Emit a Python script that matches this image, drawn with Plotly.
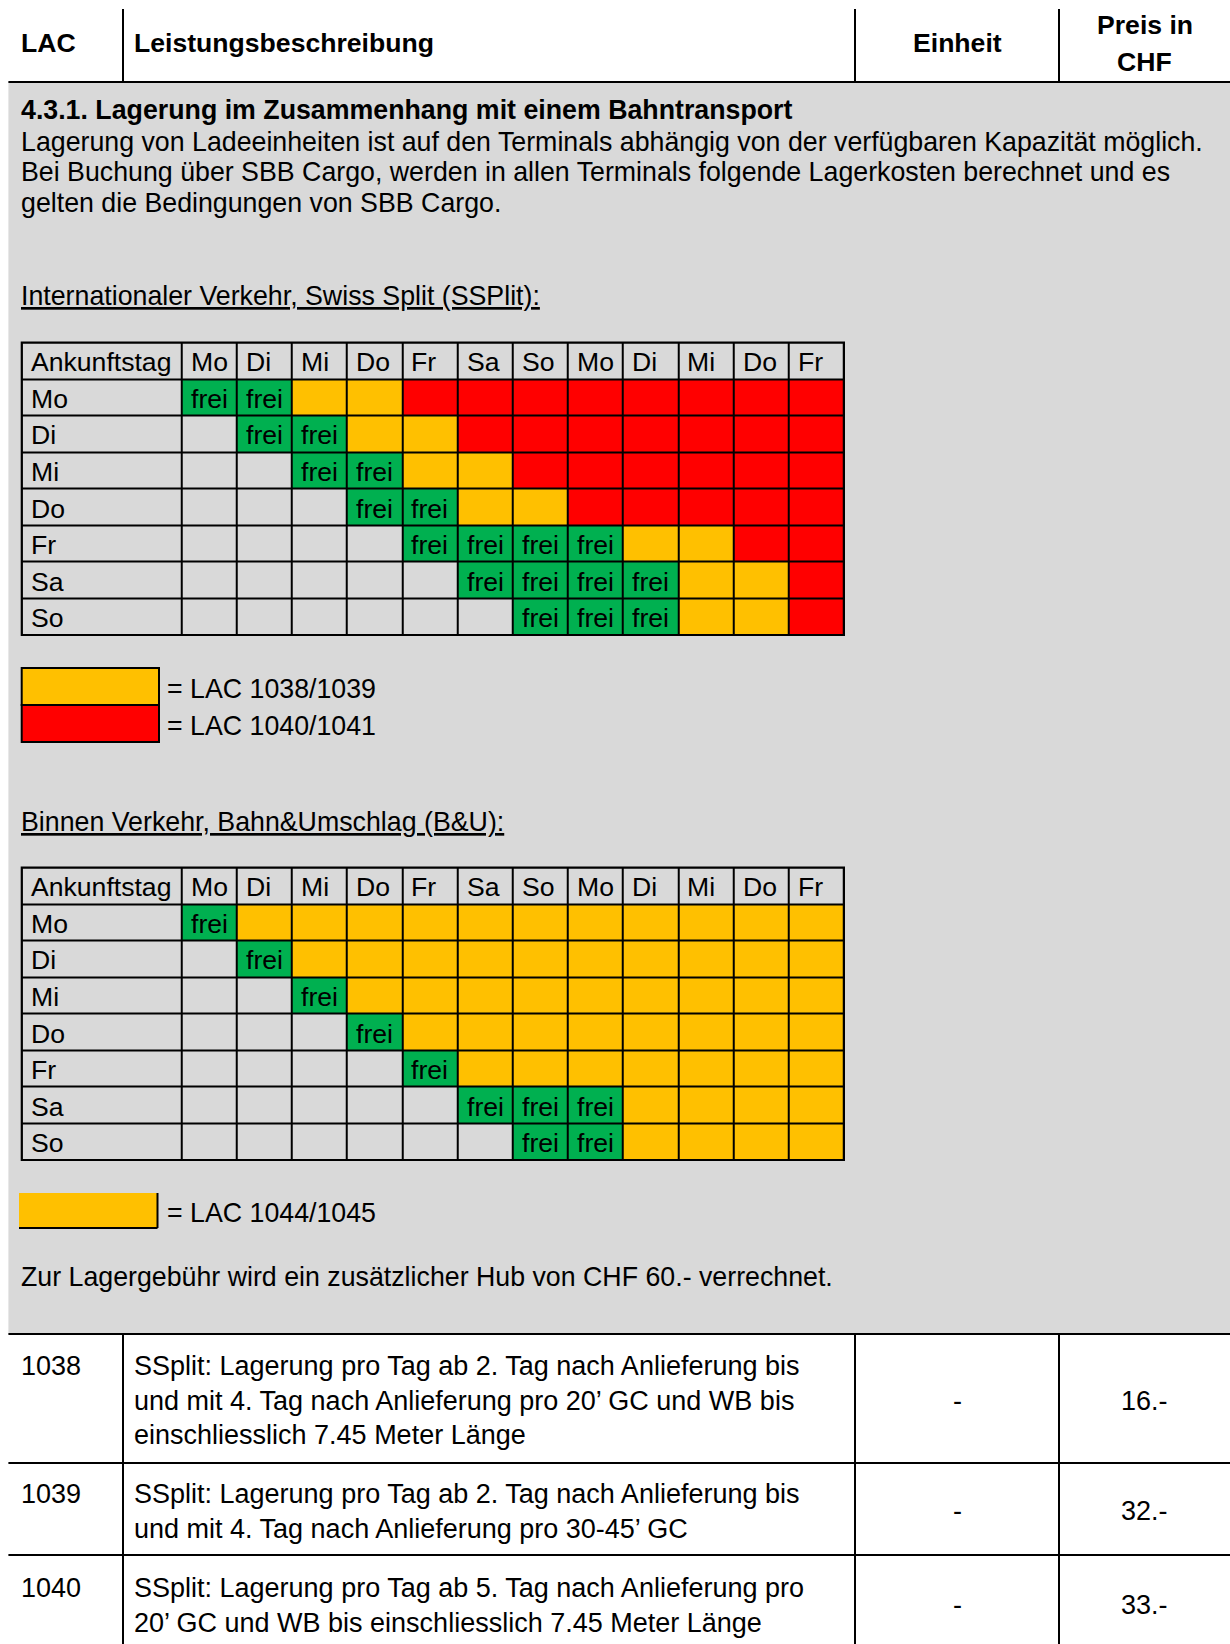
import plotly.graph_objects as go

# ---------------- data ----------------
header_labels = ["LAC", "Leistungsbeschreibung", "Einheit"]
price_header = ["Preis in", "CHF"]
section_title = "4.3.1. Lagerung im Zusammenhang mit einem Bahntransport"
intro_lines = [
    "Lagerung von Ladeeinheiten ist auf den Terminals abhängig von der verfügbaren Kapazität möglich.",
    "Bei Buchung über SBB Cargo, werden in allen Terminals folgende Lagerkosten berechnet und es",
    "gelten die Bedingungen von SBB Cargo.",
]
ssplit_title = "Internationaler Verkehr, Swiss Split (SSPlit):"
bu_title = "Binnen Verkehr, Bahn&Umschlag (B&U):"
corner_label = "Ankunftstag"
day_columns = ["Mo", "Di", "Mi", "Do", "Fr", "Sa", "So", "Mo", "Di", "Mi", "Do", "Fr"]
arrival_days = ["Mo", "Di", "Mi", "Do", "Fr", "Sa", "So"]
free_label = "frei"
# . = leer, F = frei, Y = gelb (LAC 1038/1039 bzw. 1044/1045), R = rot (LAC 1040/1041)
ssplit_cells = [
    "FFYYRRRRRRRR",
    ".FFYYRRRRRRR",
    "..FFYYRRRRRR",
    "...FFYYRRRRR",
    "....FFFFYYRR",
    ".....FFFFYYR",
    "......FFFYYR",
]
bu_cells = [
    "FYYYYYYYYYYY",
    ".FYYYYYYYYYY",
    "..FYYYYYYYYY",
    "...FYYYYYYYY",
    "....FYYYYYYY",
    ".....FFFYYYY",
    "......FFYYYY",
]
ssplit_legend_codes = ["Y", "R"]
ssplit_legend_labels = ["= LAC 1038/1039", "= LAC 1040/1041"]
bu_legend_codes = ["Y"]
bu_legend_labels = ["= LAC 1044/1045"]
note_text = "Zur Lagergebühr wird ein zusätzlicher Hub von CHF 60.- verrechnet."
lac_codes = ["1038", "1039", "1040"]
descriptions = [
    ["SSplit: Lagerung pro Tag ab 2. Tag nach Anlieferung bis",
     "und mit 4. Tag nach Anlieferung pro 20’ GC und WB bis",
     "einschliesslich 7.45 Meter Länge"],
    ["SSplit: Lagerung pro Tag ab 2. Tag nach Anlieferung bis",
     "und mit 4. Tag nach Anlieferung pro 30-45’ GC"],
    ["SSplit: Lagerung pro Tag ab 5. Tag nach Anlieferung pro",
     "20’ GC und WB bis einschliesslich 7.45 Meter Länge"],
]
units = ["-", "-", "-"]
prices = ["16.-", "32.-", "33.-"]

# ---------------- style / layout ----------------
CODE_VALUE = {".": 0, "F": 1, "Y": 2, "R": 3}
COLORS = ["#D9D9D9", "#00B050", "#FFC000", "#FF0000"]
GRAY = COLORS[0]
W, H = 1230, 1644
FONT = "Liberation Sans, Arial, Helvetica, sans-serif"
FS_HEAD = 26.6
FS = 26.75
FS_GRID = 26.6
FS_TABLE = 27.0

LEFT = 8.4
COL_LINES = [123, 855, 1059]
HEAD_TOP, HEAD_BOTTOM = 9, 82
GRAY_BOTTOM = 1334
ROW_LINES = [1463, 1555]

GRID_LEFT, GRID_RIGHT = 21.7, 844
GRID_TOPS = [342.5, 867.5]
GRID_H = 292.5
FIRST_W = 159.8 / 55.2  # width of first column in day-column units
TEXT_PAD = 7


def fx(x):
    return x / W


def fy(y):
    return 1 - y / H


annotations = []
shapes = []


def add_text(x, y, s, anchor="left", bold=False, size=FS):
    s = s.replace("&", "&amp;")
    if bold:
        s = "<b>" + s + "</b>"
    annotations.append(dict(
        xref="paper", yref="paper", x=fx(x), y=fy(y), text=s, showarrow=False,
        xanchor=anchor, yanchor="middle", align=anchor if anchor != "center" else "center",
        font=dict(family=FONT, size=size, color="black"),
    ))


def add_line(x0, y0, x1, y1, width=2):
    shapes.append(dict(type="line", xref="paper", yref="paper",
                       x0=fx(x0), y0=fy(y0), x1=fx(x1), y1=fy(y1),
                       line=dict(color="black", width=width)))


# gray block
shapes.append(dict(type="rect", xref="paper", yref="paper", x0=fx(LEFT), x1=1,
                   y0=fy(GRAY_BOTTOM), y1=fy(HEAD_BOTTOM), fillcolor=GRAY,
                   line=dict(width=0), layer="below"))

# header
for xl in COL_LINES:
    add_line(xl, HEAD_TOP, xl, HEAD_BOTTOM)
add_line(LEFT, HEAD_BOTTOM, W, HEAD_BOTTOM)
add_text(19, 43, header_labels[0], bold=True, size=FS_HEAD)
add_text(132, 43, header_labels[1], bold=True, size=FS_HEAD)
add_text((COL_LINES[1] + COL_LINES[2]) / 2, 43, header_labels[2], anchor="center", bold=True, size=FS_HEAD)
add_text((COL_LINES[2] + W) / 2, 25, price_header[0], anchor="center", bold=True, size=FS_HEAD)
add_text((COL_LINES[2] + W) / 2, 62, price_header[1], anchor="center", bold=True, size=FS_HEAD)

# intro
add_text(19, 110.5, section_title, bold=True)
for i, line in enumerate(intro_lines):
    add_text(19, 142 + i * 30.4, line)
add_text(19, 295.5, "<u>" + ssplit_title + "</u>")
add_text(19, 821.5, "<u>" + bu_title + "</u>")
add_text(19, 1276.5, note_text)

# legends
for i, (code, lab) in enumerate(zip(ssplit_legend_codes, ssplit_legend_labels)):
    top = 668 + i * 37
    shapes.append(dict(type="rect", xref="paper", yref="paper", x0=fx(21.7), x1=fx(159),
                       y0=fy(top + 37), y1=fy(top), fillcolor=COLORS[CODE_VALUE[code]],
                       line=dict(color="black", width=2)))
    add_text(165, top + 21, lab)
for i, (code, lab) in enumerate(zip(bu_legend_codes, bu_legend_labels)):
    top = 1193 + i * 37
    shapes.append(dict(type="rect", xref="paper", yref="paper", x0=fx(19), x1=fx(157.5),
                       y0=fy(top + 35), y1=fy(top), fillcolor=COLORS[CODE_VALUE[code]],
                       line=dict(width=0)))
    add_line(157.5, top, 157.5, top + 35)
    add_line(19, top + 35, 157.5, top + 35)
    add_text(165, top + 19.5, lab)

# lower table
add_line(LEFT, GRAY_BOTTOM, W, GRAY_BOTTOM)
for yl in ROW_LINES:
    add_line(LEFT, yl, W, yl)
for xl in COL_LINES:
    add_line(xl, GRAY_BOTTOM, xl, H + 2)
first_line_y = [1366, 1494, 1588]
line_gap = 34.5
for code, desc, unit, price, y0 in zip(lac_codes, descriptions, units, prices, first_line_y):
    add_text(19, y0, code, size=FS_TABLE)
    yc = y0 + (len(desc) - 1) * line_gap / 2
    for k, dl in enumerate(desc):
        add_text(132, y0 + k * line_gap, dl, size=FS_TABLE)
    add_text((COL_LINES[1] + COL_LINES[2]) / 2, yc, unit, anchor="center", size=FS_TABLE)
    add_text((COL_LINES[2] + W) / 2, yc, price, anchor="center", size=FS_TABLE)

# ---------------- grids (heatmaps) ----------------
fig = go.Figure()
n = len(COLORS) - 1
colorscale = []
for v, c in enumerate(COLORS):
    lo = max(0, (v - 0.5) / n)
    hi = min(1, (v + 0.5) / n)
    colorscale += [[lo, c], [hi, c]]

x_edges = [-FIRST_W] + list(range(len(day_columns) + 1))
y_edges = list(range(len(arrival_days) + 2))

for g, (cells, top) in enumerate(zip([ssplit_cells, bu_cells], GRID_TOPS)):
    sfx = "" if g == 0 else str(g + 1)
    xref, yref = "x" + sfx, "y" + sfx
    z = [[0] * (len(day_columns) + 1)]
    for row in cells:
        z.append([0] + [CODE_VALUE[c] for c in row])
    fig.add_trace(go.Heatmap(
        z=z, x=x_edges, y=y_edges, colorscale=colorscale, zmin=0, zmax=n,
        showscale=False, xgap=2, ygap=2, hoverinfo="skip",
        xaxis=xref, yaxis=yref,
    ))
    dom_x = [fx(GRID_LEFT), fx(GRID_RIGHT)]
    dom_y = [fy(top + GRID_H), fy(top)]
    fig.update_layout(**{
        "xaxis" + sfx: dict(domain=dom_x, range=[x_edges[0], x_edges[-1]], visible=False,
                            fixedrange=True, anchor=yref),
        "yaxis" + sfx: dict(domain=dom_y, range=[y_edges[-1], y_edges[0]], visible=False,
                            fixedrange=True, anchor=xref),
    })
    # black background visible through the gaps
    shapes.append(dict(type="rect", xref=xref, yref=yref, x0=x_edges[0], x1=x_edges[-1],
                       y0=y_edges[0], y1=y_edges[-1], fillcolor="black",
                       line=dict(width=0), layer="below"))
    # outer border
    shapes.append(dict(type="rect", xref="paper", yref="paper", x0=dom_x[0], x1=dom_x[1],
                       y0=dom_y[0], y1=dom_y[1], line=dict(color="black", width=2)))
    labels = [(x_edges[0], 0, corner_label)]
    labels += [(j, 0, d) for j, d in enumerate(day_columns)]
    labels += [(x_edges[0], i + 1, d) for i, d in enumerate(arrival_days)]
    for i, row in enumerate(cells):
        for j, c in enumerate(row):
            if c == "F":
                labels.append((j, i + 1, free_label))
    for x0, r, s in labels:
        annotations.append(dict(
            xref=xref, yref=yref, x=x0, y=r + 0.5, text=s, showarrow=False,
            xanchor="left", yanchor="middle", xshift=TEXT_PAD, yshift=-1.5,
            font=dict(family=FONT, size=FS_GRID, color="black"),
        ))

fig.update_layout(
    width=W, height=H, margin=dict(l=0, r=0, t=0, b=0),
    paper_bgcolor="white", plot_bgcolor=GRAY,
    showlegend=False, shapes=shapes, annotations=annotations,
)

fig.write_html("out.html", config={"displayModeBar": False, "staticPlot": True},
               post_script="document.body.style.margin='0';document.body.style.overflow='hidden';")
